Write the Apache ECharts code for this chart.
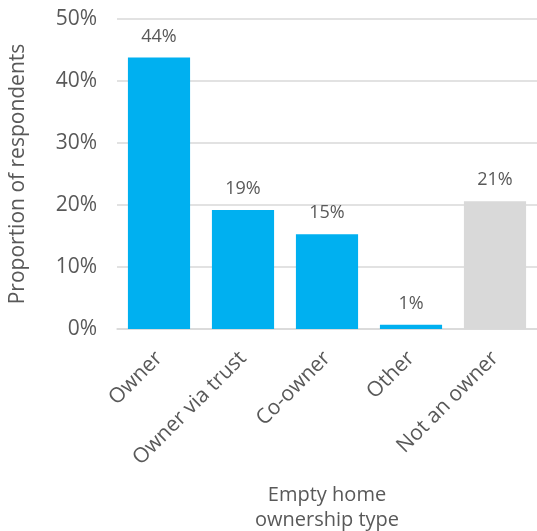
<!DOCTYPE html>
<html><head><meta charset="utf-8">
<script src="https://cdn.jsdelivr.net/npm/echarts@6/dist/echarts.min.js"></script>
<style>html,body{margin:0;padding:0;background:#fff}#c{width:537px;height:531px}</style>
</head><body><div id="c"></div>
<script>
const categories = ['Owner', 'Owner via trust', 'Co-owner', 'Other', 'Not an owner'];
const values = [43.8, 19.2, 15.3, 0.7, 20.6];
const barColors = ['#00B0F0', '#00B0F0', '#00B0F0', '#00B0F0', '#D9D9D9'];
const yTicks = { min: 0, max: 50, interval: 10 };

const font = 'Open Sans';
const chart = echarts.init(document.getElementById('c'));
chart.setOption({
  animation: false,
  grid: { left: 117, right: 0, top: 19, height: 310, containLabel: false, outerBoundsMode: 'none' },
  xAxis: {
    type: 'category',
    data: categories,
    axisLine: { lineStyle: { color: '#D9D9D9', width: 1.5 } },
    axisTick: { show: false },
    axisLabel: { rotate: 45, color: '#595959', fontSize: 21, fontFamily: font, margin: 26, interval: 0 },
    name: 'Empty home\nownership type',
    nameLocation: 'middle',
    nameGap: 154,
    nameTextStyle: { color: '#595959', fontSize: 20, fontFamily: font, lineHeight: 25 }
  },
  yAxis: {
    type: 'value',
    min: yTicks.min, max: yTicks.max, interval: yTicks.interval,
    axisLine: { show: false },
    axisTick: { show: false },
    splitLine: { lineStyle: { color: '#D9D9D9', width: 1.5 } },
    axisLabel: { formatter: v => v + '%', color: '#595959', fontSize: 21, fontFamily: font, margin: 20 },
    name: 'Proportion of respondents',
    nameLocation: 'middle',
    nameGap: 88,
    nameTextStyle: { color: '#595959', fontSize: 21, fontFamily: font }
  },
  series: [{
    type: 'bar',
    barWidth: '74%',
    data: values.map((v, i) => ({ value: v, itemStyle: { color: barColors[i] } })),
    label: {
      show: true, position: 'top', distance: 12,
      formatter: p => Math.round(p.value) + '%',
      color: '#595959', fontSize: 18, fontFamily: font
    }
  }]
});
</script></body></html>
